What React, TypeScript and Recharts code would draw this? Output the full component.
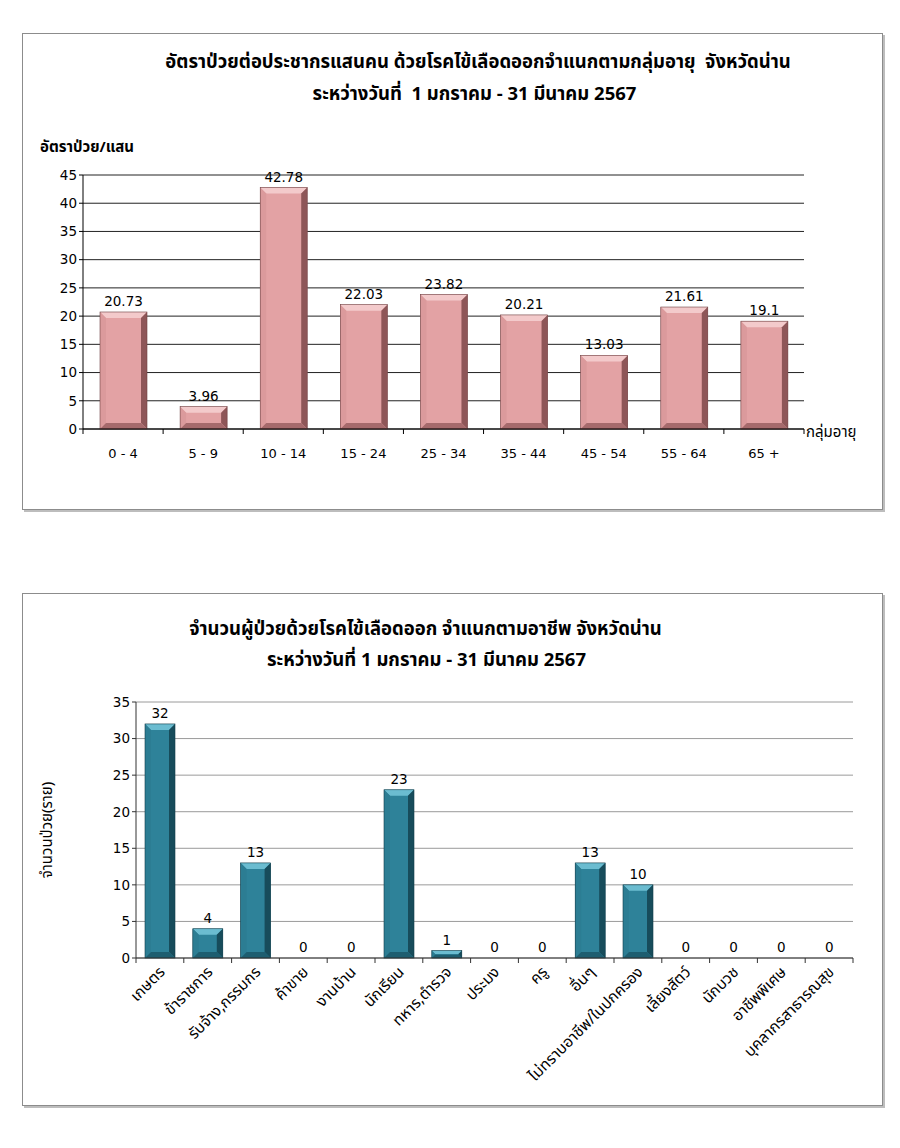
import React from 'react';
import { BarChart, Bar, XAxis, YAxis, CartesianGrid, LabelList } from 'recharts';

const ageGroups = ['0 - 4', '5 - 9', '10 - 14', '15 - 24', '25 - 34', '35 - 44', '45 - 54', '55 - 64', '65 +'];
const ageRates = [20.73, 3.96, 42.78, 22.03, 23.82, 20.21, 13.03, 21.61, 19.1];
const ageTicks = [0, 5, 10, 15, 20, 25, 30, 35, 40, 45];

const occupations = [
  'เกษตร', 'ข้าราชการ', 'รับจ้าง,กรรมกร', 'ค้าขาย', 'งานบ้าน', 'นักเรียน', 'ทหาร,ตำรวจ', 'ประมง',
  'ครู', 'อื่นๆ', 'ไม่ทราบอาชีพ/ในปกครอง', 'เลี้ยงสัตว์', 'นักบวช', 'อาชีพพิเศษ', 'บุคลากรสาธารณสุข',
];
const occupationCases = [32, 4, 13, 0, 0, 23, 1, 0, 0, 13, 10, 0, 0, 0, 0];
const caseTicks = [0, 5, 10, 15, 20, 25, 30, 35];

const ageData = ageGroups.map((g, i) => ({ group: g, rate: ageRates[i] }));
const occData = occupations.map((o, i) => ({ job: o, cases: occupationCases[i] }));

const thaiFont = '"Noto Sans Thai", "Noto Sans", "DejaVu Sans", sans-serif';
const numFont = '"DejaVu Sans", Verdana, sans-serif';

type Palette = { main: string; top: string; left: string; right: string; bottom: string; edge: string };

const pink: Palette = { main: '#E3A2A4', top: '#F3CACB', left: '#DB9A9C', right: '#8E5658', bottom: '#A66A6C', edge: '#6E4042' };
const teal: Palette = { main: '#2E8299', top: '#6BBCD0', left: '#2C7D93', right: '#174C5B', bottom: '#1E5E70', edge: '#123D4A' };

const bevelBar = (pal: Palette) => (props: any) => {
  const { x, y, width, height } = props;
  if (!height || height <= 0) return <g />;
  const b = Math.min(6, height / 2.2, width / 4);
  const x2 = x + width;
  const y2 = y + height;
  return (
    <g>
      <rect x={x} y={y} width={width} height={height} fill={pal.main} />
      <polygon points={`${x},${y} ${x2},${y} ${x2 - b},${y + b} ${x + b},${y + b}`} fill={pal.top} />
      <polygon points={`${x},${y} ${x + b},${y + b} ${x + b},${y2 - b} ${x},${y2}`} fill={pal.left} />
      <polygon points={`${x2},${y} ${x2},${y2} ${x2 - b},${y2 - b} ${x2 - b},${y + b}`} fill={pal.right} />
      <polygon points={`${x},${y2} ${x + b},${y2 - b} ${x2 - b},${y2 - b} ${x2},${y2}`} fill={pal.bottom} />
      <rect x={x} y={y} width={width} height={height} fill="none" stroke={pal.edge} strokeWidth={0.6} />
    </g>
  );
};

const BoundaryTick = (props: any) => {
  const { x, y, payload, index, visibleTicksCount, color, rotate } = props;
  const half = payload && payload.offset ? payload.offset : 0;
  const last = index === visibleTicksCount - 1;
  const lineY = y - 8;
  return (
    <g>
      <line x1={x - half} y1={lineY} x2={x - half} y2={lineY + 5} stroke={color} />
      {last && <line x1={x + half} y1={lineY} x2={x + half} y2={lineY + 5} stroke={color} />}
      {rotate ? (
        <text
          x={x + 6}
          y={y + 7}
          textAnchor="end"
          transform={`rotate(-45, ${x + 6}, ${y + 7})`}
          fontFamily={thaiFont}
          fontSize={15.5}
          fill="#000"
        >
          {payload.value}
        </text>
      ) : (
        <text x={x} y={y + 21} textAnchor="middle" fontFamily={numFont} fontSize={13} fill="#000">
          {payload.value}
        </text>
      )}
    </g>
  );
};

const boxStyle: React.CSSProperties = {
  position: 'absolute',
  left: 22,
  width: 861,
  border: '1px solid #8c8c8c',
  boxShadow: '2px 2px 0 #bdbdbd',
  background: '#fff',
  boxSizing: 'border-box',
};

const titleStyle: React.CSSProperties = {
  position: 'absolute',
  left: 0,
  width: '100%',
  boxSizing: 'border-box',
  textAlign: 'center',
  fontFamily: thaiFont,
  fontWeight: 'bold',
  fontSize: 18.5,
  color: '#000',
  whiteSpace: 'pre',
};

export default function App() {
  return (
    <div style={{ position: 'absolute', left: 0, top: 0, width: 900, height: 1148, background: '#fff' }}>
      <div style={{ ...boxStyle, top: 33, height: 477 }}>
        <div style={{ ...titleStyle, top: 14, paddingLeft: 51 }}>
          อัตราป่วยต่อประชากรแสนคน ด้วยโรคไข้เลือดออกจำแนกตามกลุ่มอายุ  จังหวัดน่าน
        </div>
        <div style={{ ...titleStyle, top: 46, paddingLeft: 44 }}>
          ระหว่างวันที่  1 มกราคม - 31 มีนาคม 2567
        </div>
        <div style={{ position: 'absolute', left: 17, top: 102, fontFamily: thaiFont, fontWeight: 'bold', fontSize: 15 }}>
          อัตราป่วย/แสน
        </div>
        <div style={{ position: 'absolute', left: 783, top: 387, fontFamily: thaiFont, fontSize: 15 }}>
          กลุ่มอายุ
        </div>
        <BarChart
          width={861}
          height={476}
          data={ageData}
          margin={{ top: 141, right: 80, bottom: 51, left: 0 }}
          barSize={47}
        >
          <CartesianGrid vertical={false} stroke="#222" strokeWidth={1} />
          <XAxis
            dataKey="group"
            height={30}
            axisLine={{ stroke: '#000' }}
            tickLine={false}
            interval={0}
            tick={<BoundaryTick color="#000" />}
          />
          <YAxis
            width={60}
            domain={[0, 45]}
            ticks={ageTicks}
            interval={0}
            axisLine={{ stroke: '#000' }}
            tickLine={{ stroke: '#000' }}
            tickSize={4}
            tick={{ fontFamily: numFont, fontSize: 13.5, fill: '#000' }}
          />
          <Bar dataKey="rate" isAnimationActive={false} shape={bevelBar(pink)}>
            <LabelList dataKey="rate" position="top" offset={6} fontFamily={numFont} fontSize={13.5} fill="#000" />
          </Bar>
        </BarChart>
      </div>

      <div style={{ ...boxStyle, top: 593, height: 513 }}>
        <div style={{ ...titleStyle, top: 21, paddingRight: 54 }}>
          จำนวนผู้ป่วยด้วยโรคไข้เลือดออก จำแนกตามอาชีพ จังหวัดน่าน
        </div>
        <div style={{ ...titleStyle, top: 52, paddingRight: 52 }}>
          ระหว่างวันที่ 1 มกราคม - 31 มีนาคม 2567
        </div>
        <div
          style={{
            position: 'absolute',
            left: 24,
            top: 236,
            transform: 'translate(-50%, -50%) rotate(-90deg)',
            fontFamily: thaiFont,
            fontSize: 15,
            whiteSpace: 'pre',
          }}
        >
          จำนวนป่วย(ราย)
        </div>
        <BarChart
          width={861}
          height={512}
          data={occData}
          margin={{ top: 108, right: 31, bottom: 8, left: 0 }}
          barSize={30}
        >
          <CartesianGrid vertical={false} stroke="#9a9a9a" strokeWidth={1} />
          <XAxis
            dataKey="job"
            height={140}
            axisLine={{ stroke: '#333' }}
            tickLine={false}
            interval={0}
            tick={<BoundaryTick color="#333" rotate />}
          />
          <YAxis
            width={113}
            domain={[0, 35]}
            ticks={caseTicks}
            interval={0}
            axisLine={{ stroke: '#333' }}
            tickLine={{ stroke: '#333' }}
            tickSize={4}
            tick={{ fontFamily: numFont, fontSize: 13.5, fill: '#000' }}
          />
          <Bar dataKey="cases" isAnimationActive={false} shape={bevelBar(teal)}>
            <LabelList dataKey="cases" position="top" offset={6} fontFamily={numFont} fontSize={13.5} fill="#000" />
          </Bar>
        </BarChart>
      </div>
    </div>
  );
}
